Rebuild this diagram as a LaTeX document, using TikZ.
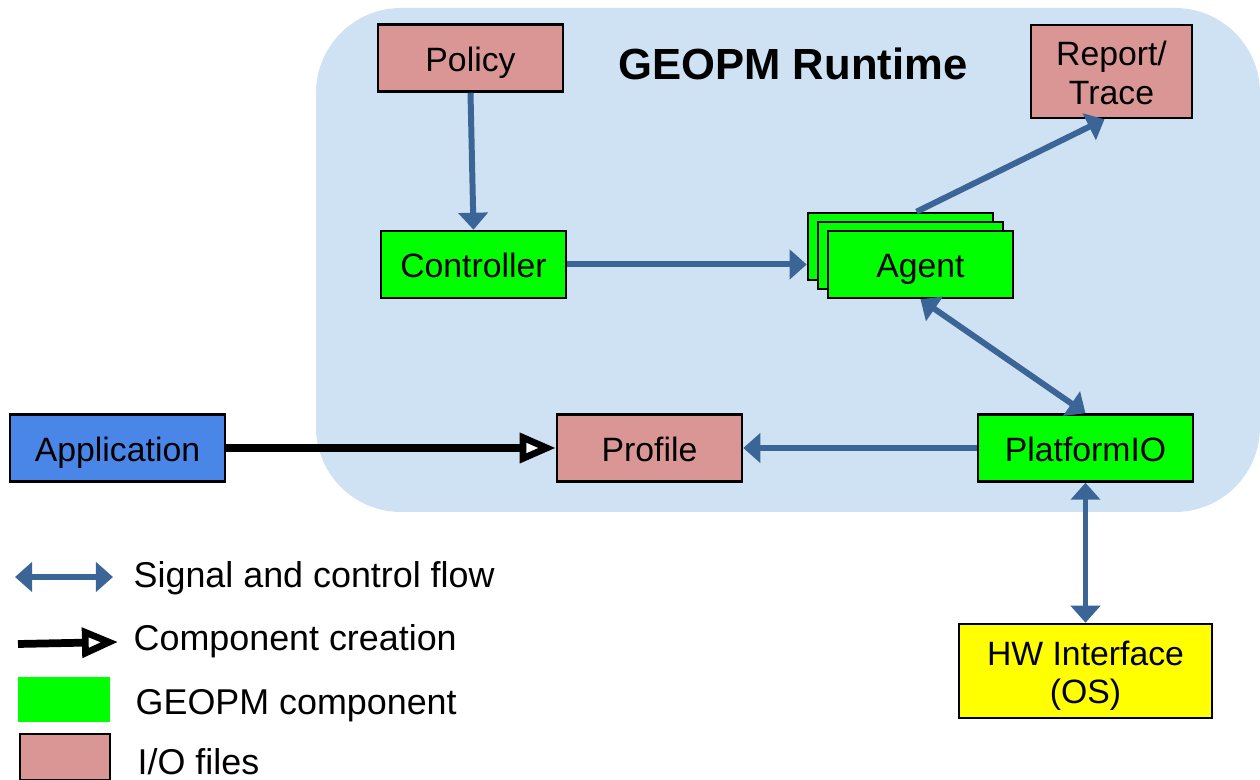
\documentclass[tikz,border=0pt]{standalone}
\usepackage{fontspec}
\setmainfont{Liberation Sans}
\definecolor{gRuntime}{HTML}{CFE2F3}
\definecolor{gGreen}{HTML}{00FF00}
\definecolor{gPink}{HTML}{DA9694}
\definecolor{gYellow}{HTML}{FFFF00}
\definecolor{gApp}{HTML}{4A86E8}
\definecolor{gFlow}{HTML}{3C6597}
\usetikzlibrary{positioning,arrows.meta,calc}
\newcommand{\gnode}[5][]{%
 \node[draw=black, line width=0.7pt, fill=#4, minimum width=1.85cm, minimum height=0.67cm, inner sep=0pt, font=\fontsize{9.6}{11}\selectfont, #1] (#2) at (#3) {\raisebox{-1.6pt}[\height][\depth]{\begin{tabular}{@{}c@{}}#5\end{tabular}}};}
\tikzset{
 flow/.style={gFlow, line width=1.7pt, -{Triangle[length=0.17cm,width=0.29cm]}},
 flowboth/.style={gFlow, line width=1.7pt, {Triangle[length=0.17cm,width=0.29cm]}-{Triangle[length=0.17cm,width=0.29cm]}},
 create/.style={black, line width=2.2pt, -{Triangle[length=0.36cm,width=0.29cm,fill=white,line width=1.9pt]}},
 legtext/.style={anchor=west, inner sep=0pt, font=\fontsize{10.2}{12}\selectfont}
}

\begin{document}
\begin{tikzpicture}[x=0.01cm, y=-0.01cm]
\useasboundingbox (0,0) rectangle (1260,780);
% runtime area
\fill[gRuntime, rounded corners=0.85cm] (316,8) rectangle (1260,512);
\node[font=\fontsize{12.4}{14}\selectfont\bfseries] (title) at (793,64) {GEOPM Runtime};

\gnode{policy}{470.5,58}{gPink}{Policy}
\gnode[minimum width=1.61cm, minimum height=0.93cm]{report}{1111.5,71.5}{gPink}{Report/\\Trace}
\gnode{controller}{473.5,264.5}{gGreen}{Controller}
\gnode{agentb}{900.5,246.5}{gGreen}{}
\gnode{agentm}{910.5,255.5}{gGreen}{}
\gnode{agent}{920.5,264.5}{gGreen}{Agent}
\gnode[minimum width=2.15cm]{app}{117.5,448}{gApp}{Application}
\gnode{profile}{649.5,448}{gPink}{Profile}
\gnode[minimum width=2.15cm]{platform}{1085.5,448}{gGreen}{PlatformIO}
\gnode[minimum width=2.53cm, minimum height=0.94cm]{hw}{1085.5,671}{gYellow}{HW Interface\\(OS)}

\draw[flow] (policy.south) -- (controller.north);
\draw[flow] (controller.east) -- (controller.east -| agentb.west);
\draw[flow] ([xshift=0.16cm]agentb.north) -- ([xshift=-0.07cm]report.south);
\draw[flowboth] (agent.south) -- (platform.north);
\draw[flow] (platform.west) -- (profile.east);
\draw[flowboth] (platform.south) -- (hw.north);
\draw[create] (app.east) -- (profile.west);

% legend
\coordinate (sigA) at (15,577);
\coordinate (sigB) at (113,577);
\coordinate (creA) at (18,644);
\coordinate (creB) at (118,642);
\draw[flowboth] (sigA) -- (sigB);
\draw[create] (creA) -- (creB);
\node[fill=gGreen, minimum width=0.92cm, minimum height=0.45cm, inner sep=0pt] (leggreen) at (64,699.5) {};
\node[draw=black, line width=0.7pt, fill=gPink, minimum width=0.9cm, minimum height=0.46cm, inner sep=0pt] (legpink) at (65,757) {};
\node[legtext] (sigtext) at (133,578) {Signal and control flow};
\node[legtext] (cretext) at (133,641) {Component creation};
\node[legtext] (greentext) at (135,706) {GEOPM component};
\node[legtext] (pinktext) at (137,762) {I/O files};
\end{tikzpicture}
\end{document}
